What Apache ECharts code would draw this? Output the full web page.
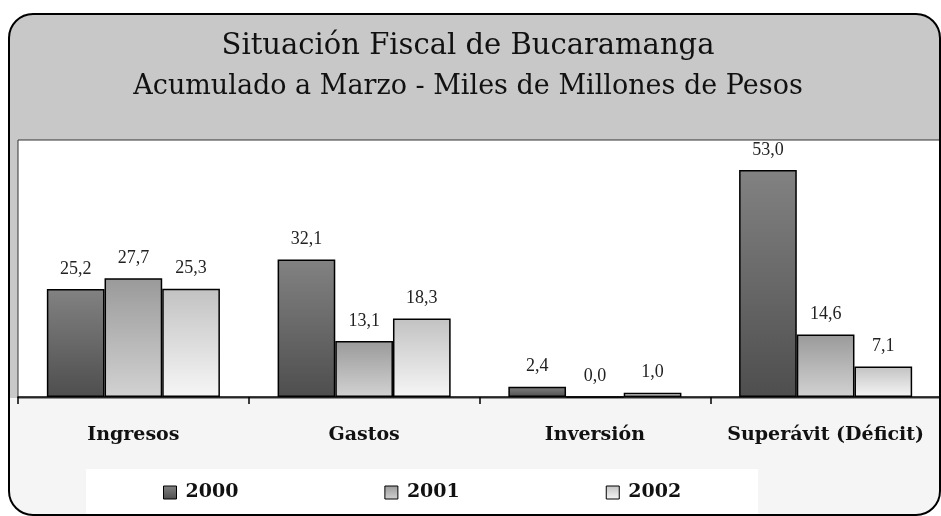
<!DOCTYPE html>
<html><head><meta charset="utf-8">
<script src="https://cdn.jsdelivr.net/npm/echarts@6/dist/echarts.min.js"></script>
<style>html,body{margin:0;padding:0;background:#fff}#c{width:941px;height:516px}</style>
</head><body><div id="c"></div>
<script>
const categories = ['Ingresos', 'Gastos', 'Inversión', 'Superávit (Déficit)'];
const years = ['2000', '2001', '2002'];
const v2000 = [25.2, 32.1, 2.4, 53.0];
const v2001 = [27.7, 13.1, 0.0, 14.6];
const v2002 = [25.3, 18.3, 1.0, 7.1];
const titleLine1 = 'Situación Fiscal de Bucaramanga';
const titleLine2 = 'Acumulado a Marzo - Miles de Millones de Pesos';

function grad(a, b) {
  return new echarts.graphic.LinearGradient(0, 0, 0, 1, [{offset: 0, color: a}, {offset: 1, color: b}]);
}
const fills = [grad('#828282', '#4e4e4e'), grad('#9a9a9a', '#d2d2d2'), grad('#c2c2c2', '#f6f6f6')];
const seriesVals = [v2000, v2001, v2002];

const chart = echarts.init(document.getElementById('c'), null, {renderer: 'canvas'});
chart.setOption({
  animation: false,
  backgroundColor: '#ffffff',
  title: [
    {text: titleLine1, left: 468, top: 31, textAlign: 'center', padding: 0,
     textStyle: {fontFamily: 'DejaVu Serif', fontSize: 29, fontWeight: 'normal', color: '#111', lineHeight: 30}},
    {text: titleLine2, left: 468, top: 72, textAlign: 'center', padding: 0,
     textStyle: {fontFamily: 'DejaVu Serif', fontSize: 27, fontWeight: 'normal', color: '#111', lineHeight: 30}}
  ],
  graphic: [
    {type: 'rect', z: -20, shape: {x: 9, y: 14, width: 931, height: 501, r: 24}, style: {fill: '#f5f5f5', stroke: null}},
    {type: 'rect', z: -19, shape: {x: 9, y: 14, width: 931, height: 384, r: [24, 24, 0, 0]}, style: {fill: '#c8c8c8', stroke: null}},
    {type: 'rect', z: -18, shape: {x: 18, y: 140, width: 930, height: 258}, style: {fill: '#ffffff', stroke: '#333', lineWidth: 1}},
    {type: 'rect', z: -18, shape: {x: 86, y: 469, width: 672, height: 46}, style: {fill: '#ffffff', stroke: null}},
    {type: 'rect', z: 100, shape: {x: 9, y: 14, width: 931, height: 501, r: 24}, style: {fill: null, stroke: '#000', lineWidth: 2}}
  ],
  legend: {
    data: years.map(n => ({name: n, icon: 'rect'})),
    left: 158, top: 478,
    itemWidth: 13, itemHeight: 13, itemGap: 146,
    textStyle: {fontFamily: 'DejaVu Serif', fontSize: 19, fontWeight: 'bold', color: '#111', padding: [0, 0, 0, 4]},
    itemStyle: {borderColor: '#000', borderWidth: 1}
  },
  grid: {left: 18, right: -1, top: 140, bottom: 119, containLabel: false},
  xAxis: {
    type: 'category', data: categories,
    axisLine: {lineStyle: {color: '#000', width: 1.5}},
    axisTick: {show: true, length: 7, interval: 0, lineStyle: {color: '#000', width: 1.5}},
    axisLabel: {margin: 29, interval: 0, fontFamily: 'DejaVu Serif', fontSize: 19, fontWeight: 'bold', color: '#111'}
  },
  yAxis: {type: 'value', min: 0, max: 60, show: false, splitLine: {show: false}},
  series: years.map((y, i) => ({
    name: y, type: 'bar', data: seriesVals[i],
    barGap: '0%', barCategoryGap: '25%',
    itemStyle: {color: fills[i], borderColor: '#000', borderWidth: 1.5},
    label: {
      show: true, position: 'top', distance: 11,
      formatter: p => p.value.toFixed(1).replace('.', ','),
      fontFamily: 'Liberation Serif', fontSize: 18, color: '#222'
    }
  }))
});
</script></body></html>
